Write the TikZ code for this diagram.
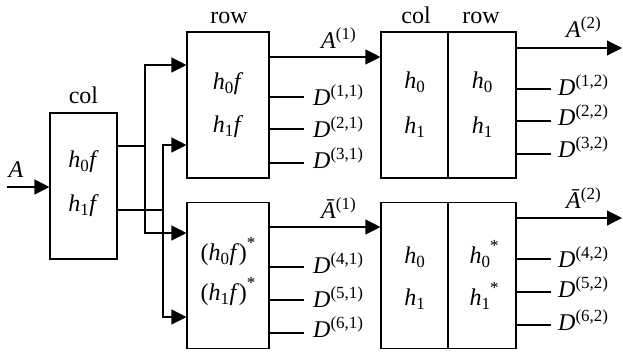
\documentclass[tikz,border=0pt]{standalone}
\usepackage{fontspec}
\setmainfont{Liberation Serif}
\usetikzlibrary{arrows.meta}
\newcommand\Sp[1]{\raisebox{8.5pt}{\fontsize{17}{17}\selectfont #1}}
\newcommand\Sb[1]{\raisebox{-4pt}{\fontsize{17}{17}\selectfont #1}}
\newcommand\St{\raisebox{12pt}{\fontsize{17}{17}\selectfont *}}
\newcommand\Hf[1]{\textit{h}\Sb{#1}\kern0.5pt\textit{f}}
\begin{document}
\begin{tikzpicture}[x=1pt,y=-1pt,
  ln/.style={line width=1.1pt},
  arr/.style={ln,-{Triangle[length=15pt,width=15pt]}},
  box/.style={draw,ln,inner sep=0pt,minimum width=#1,minimum height=146pt},
  lab/.style={anchor=base,inner sep=0pt,font=\fontsize{24}{28}\selectfont},
  dl/.style={lab,anchor=base west}]
\useasboundingbox (0,0) rectangle (623,354);
% boxes
\node[box=67pt] (colbox) at (83.5,186) {};
\node[box=82pt] (r1) at (228,105) {};
\node[box=82pt] (r2) at (228,275.5) {};
\node[box=67pt] (c2a) at (414.5,105) {};
\node[box=68pt] (c2b) at (482,105) {};
\node[box=67pt] (c3a) at (414.5,275.5) {};
\node[box=68pt] (c3b) at (482,275.5) {};
% headings
\node[lab] (hcol) at (83.5,103) {col};
\node[lab] (hrow1) at (229,23) {row};
\node[lab] (hcol2) at (416,23) {col};
\node[lab] (hrow2) at (481,23) {row};
% box texts
\node[lab] (t1) at (83.5,167) {\Hf{0}};
\node[lab] (t2) at (83.5,211) {\Hf{1}};
\node[lab] (t3) at (228,89) {\Hf{0}};
\node[lab] (t4) at (228,132) {\Hf{1}};
\node[lab] (t5) at (228,260) {(\Hf{0})\St};
\node[lab] (t6) at (228,300) {(\Hf{1})\St};
\node[lab] (t7) at (414.5,88) {\textit{h}\Sb{0}};
\node[lab] (t8) at (414.5,133) {\textit{h}\Sb{1}};
\node[lab] (t9) at (482,88) {\textit{h}\Sb{0}};
\node[lab] (t10) at (482,133) {\textit{h}\Sb{1}};
\node[lab] (t11) at (414.5,263) {\textit{h}\Sb{0}};
\node[lab] (t12) at (414.5,305) {\textit{h}\Sb{1}};
\node[lab] (t13) at (484,263) {\textit{h}\Sb{0}\St};
\node[lab] (t14) at (484,305) {\textit{h}\Sb{1}\St};
% input
\coordinate (in) at (7,187);
\node[lab] (Ain) at (16,177) {\textit{A}};
\draw[arr] (in) -- (colbox.west |- in);
% splits
\coordinate (ja) at (145,146);
\coordinate (ja1) at (145,65);
\coordinate (ja2) at (145,233);
\coordinate (jb) at (163,210);
\coordinate (jb1) at (163,145);
\coordinate (jb2) at (163,317);
\draw[ln] (colbox.east |- ja) -- (ja);
\draw[ln] (colbox.east |- jb) -- (jb);
\draw[arr] (ja) -- (ja1) -- (r1.west |- ja1);
\draw[arr] (ja) -- (ja2) -- (r2.west |- ja2);
\draw[arr] (jb) -- (jb1) -- (r1.west |- jb1);
\draw[arr] (jb) -- (jb2) -- (r2.west |- jb2);
% stage 1 outputs
\coordinate (o1) at (300,57);
\coordinate (o2) at (300,227);
\draw[arr] (r1.east |- o1) -- (c2a.west |- o1);
\draw[arr] (r2.east |- o2) -- (c3a.west |- o2);
\node[dl] (la1) at (321,48) {\textit{A}\Sp{(1)}};
\node[dl] (la2) at (321,218) {\textit{Ā}\Sp{(1)}};
\coordinate (d11) at (304,97);
\coordinate (d21) at (304,129);
\coordinate (d31) at (304,163);
\coordinate (d41) at (304,267);
\coordinate (d51) at (304,300);
\coordinate (d61) at (304,333);
\foreach \d in {d11,d21,d31} \draw[ln] (r1.east |- \d) -- (\d);
\foreach \d in {d41,d51,d61} \draw[ln] (r2.east |- \d) -- (\d);
\node[dl] (ld11) at (313,105) {\textit{D}\Sp{(1,1)}};
\node[dl] (ld21) at (313,137) {\textit{D}\Sp{(2,1)}};
\node[dl] (ld31) at (313,168) {\textit{D}\Sp{(3,1)}};
\node[dl] (ld41) at (313,273) {\textit{D}\Sp{(4,1)}};
\node[dl] (ld51) at (313,307) {\textit{D}\Sp{(5,1)}};
\node[dl] (ld61) at (313,337) {\textit{D}\Sp{(6,1)}};
% stage 2 outputs
\coordinate (e1) at (622,48);
\coordinate (e2) at (622,218);
\draw[arr] (c2b.east |- e1) -- (e1);
\draw[arr] (c3b.east |- e2) -- (e2);
\node[dl] (lb1) at (566,37) {\textit{A}\Sp{(2)}};
\node[dl] (lb2) at (566,208) {\textit{Ā}\Sp{(2)}};
\coordinate (d12) at (551,89);
\coordinate (d22) at (551,121);
\coordinate (d32) at (551,154);
\coordinate (d42) at (551,259);
\coordinate (d52) at (551,292);
\coordinate (d62) at (551,325);
\foreach \d in {d12,d22,d32} \draw[ln] (c2b.east |- \d) -- (\d);
\foreach \d in {d42,d52,d62} \draw[ln] (c3b.east |- \d) -- (\d);
\node[dl] (ld12) at (558,95) {\textit{D}\Sp{(1,2)}};
\node[dl] (ld22) at (558,125) {\textit{D}\Sp{(2,2)}};
\node[dl] (ld32) at (558,157) {\textit{D}\Sp{(3,2)}};
\node[dl] (ld42) at (558,267) {\textit{D}\Sp{(4,2)}};
\node[dl] (ld52) at (558,297) {\textit{D}\Sp{(5,2)}};
\node[dl] (ld62) at (558,330) {\textit{D}\Sp{(6,2)}};
\end{tikzpicture}
\end{document}
